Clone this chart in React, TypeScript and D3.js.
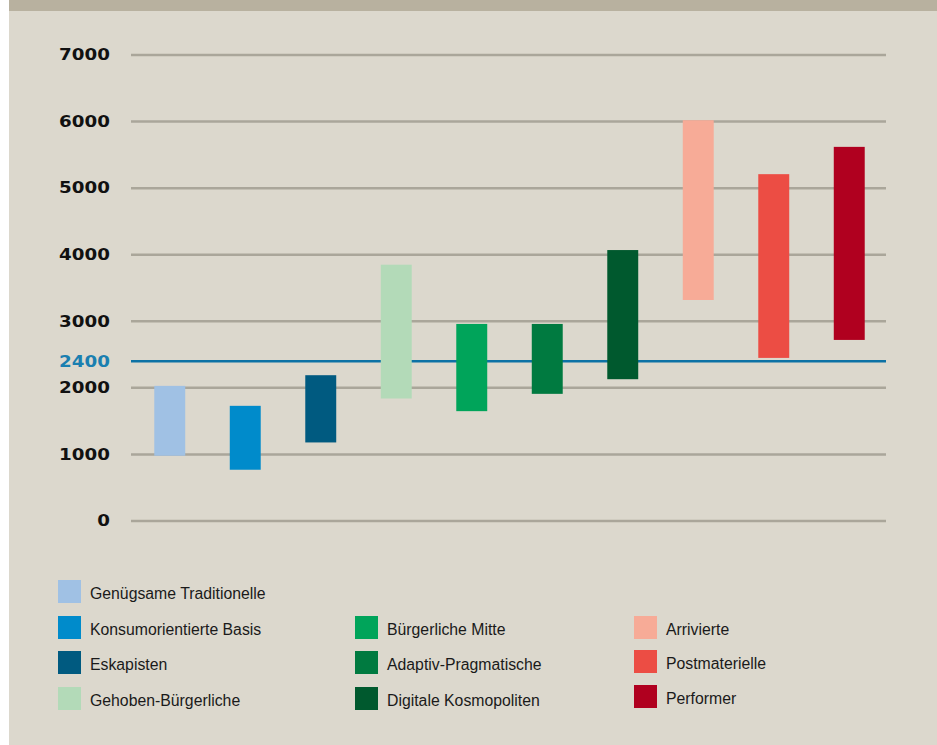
import React from "react";
import * as d3 from "d3";

const categories = [
  "Genügsame Traditionelle",
  "Konsumorientierte Basis",
  "Eskapisten",
  "Gehoben-Bürgerliche",
  "Bürgerliche Mitte",
  "Adaptiv-Pragmatische",
  "Digitale Kosmopoliten",
  "Arrivierte",
  "Postmaterielle",
  "Performer",
];
const lowValues = [980, 770, 1180, 1840, 1650, 1910, 2130, 3320, 2450, 2720];
const highValues = [2030, 1730, 2190, 3850, 2960, 2960, 4070, 6020, 5210, 5620];
const colors = [
  "#a0c1e4",
  "#008bcb",
  "#005a80",
  "#b3dab8",
  "#00a45a",
  "#007a40",
  "#00592e",
  "#f7ab97",
  "#ec4d44",
  "#b0001f",
];
const yTicks = [0, 1000, 2000, 3000, 4000, 5000, 6000, 7000];
const referenceValue = 2400;
const legendColumns = [
  [0, 1, 2, 3],
  [4, 5, 6],
  [7, 8, 9],
];

const W = 937;
const H = 745;

export default function App() {
  const x = d3
    .scaleBand<string>()
    .domain(categories)
    .range([132, 887])
    .paddingInner(0.59)
    .paddingOuter(0.295);
  const y = d3.scaleLinear().domain([0, 7000]).range([521, 55]);

  const gridX1 = 131;
  const gridX2 = 886;

  const legendColX = [58, 355, 634];
  const legendColY = [
    [580, 616, 651, 687],
    [616, 651, 687],
    [616, 650, 685],
  ];

  const tickLabel = (v: number, color: string, key: string) => (
    <text
      key={key}
      transform={`translate(110,${y(v) + 5.3}) scale(1.22,1)`}
      textAnchor="end"
      fontFamily="'DejaVu Sans', sans-serif"
      fontWeight="bold"
      fontSize={15}
      fill={color}
    >
      {v}
    </text>
  );

  return (
    <svg
      width={W}
      height={H}
      style={{ position: "absolute", left: 0, top: 0, display: "block" }}
    >
      <rect x={0} y={0} width={W} height={H} fill="#ffffff" />
      <rect x={9} y={0} width={W - 9} height={H} fill="#dcd8cd" />
      <rect x={9} y={0} width={W - 9} height={11} fill="#b8b19f" />

      {yTicks.map((t) => (
        <g key={"g" + t}>
          <line
            x1={gridX1}
            x2={gridX2}
            y1={y(t)}
            y2={y(t)}
            stroke="#aaa69a"
            strokeWidth={2.5}
          />
          {tickLabel(t, "#111111", "t" + t)}
        </g>
      ))}

      <line
        x1={gridX1}
        x2={gridX2}
        y1={y(referenceValue)}
        y2={y(referenceValue)}
        stroke="#0d72a5"
        strokeWidth={2.5}
      />
      {tickLabel(referenceValue, "#1a7fb0", "ref")}

      {categories.map((c, i) => (
        <rect
          key={c}
          x={x(c)}
          width={x.bandwidth()}
          y={y(highValues[i])}
          height={y(lowValues[i]) - y(highValues[i])}
          fill={colors[i]}
        />
      ))}

      {legendColumns.map((col, ci) =>
        col.map((idx, ri) => (
          <g
            key={"l" + idx}
            transform={`translate(${legendColX[ci]},${legendColY[ci][ri]})`}
          >
            <rect x={0} y={0} width={23} height={23} fill={colors[idx]} />
            <text
              x={32}
              y={19}
              fontFamily="'Liberation Sans', Arial, sans-serif"
              fontSize={15.8}
              fill="#1a1a1a"
            >
              {categories[idx]}
            </text>
          </g>
        ))
      )}
    </svg>
  );
}
